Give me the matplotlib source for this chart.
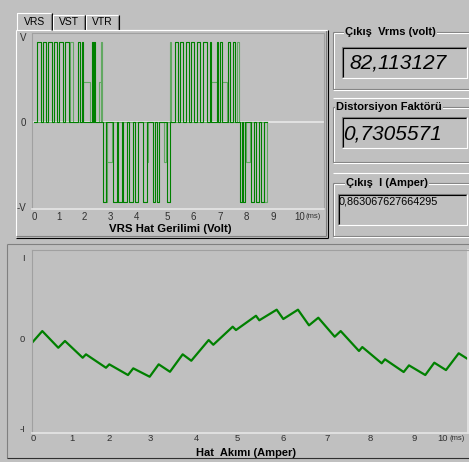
import matplotlib.pyplot as plt

plt.rcParams['font.family'] = ['Liberation Sans', 'DejaVu Sans']

BG = "#c0c0c0"
GRAY = "#808080"
WHITE = "#ffffff"
GREEN = "#008000"
LIGHT_GREEN = "#62a862"

# ust grafik: VRS hat gerilimi, darbeler (baslangic ms, bitis ms, seviye)
vrs_pulses = [
    (0.12, 0.26, 1), (0.35, 0.44, 1), (0.54, 0.67, 1), (0.75, 0.88, 1), (0.95, 1.08, 1),
    (1.18, 1.30, 1), (1.66, 1.73, 1), (1.79, 1.85, 1), (2.17, 2.21, 1), (2.27, 2.31, 1),
    (2.58, 2.71, -1), (2.96, 3.11, -1), (3.17, 3.30, -1), (3.36, 3.51, -1), (3.58, 3.73, -1),
    (3.80, 3.92, -1), (4.09, 4.24, -1), (4.48, 4.55, -1), (4.64, 4.71, -1), (4.99, 5.13, -1),
    (5.30, 5.42, 1), (5.49, 5.61, 1), (5.70, 5.83, 1), (5.90, 6.03, 1), (6.12, 6.24, 1),
    (6.36, 6.49, 1), (6.62, 6.65, 1), (6.87, 6.93, 1), (6.99, 7.06, 1), (7.30, 7.37, 1),
    (7.49, 7.56, 1),
    (7.74, 7.81, -1), (7.87, 7.93, -1), (8.16, 8.28, -1), (8.33, 8.46, -1), (8.53, 8.66, -1),
]
vrs_light_pulses = [
    (1.35, 1.45, 1), (1.85, 2.11, 0.5), (2.45, 2.50, 0.5), (2.50, 2.56, 1),
    (2.71, 2.75, -1), (2.75, 2.92, -0.5), (4.24, 4.30, -0.5), (4.88, 4.95, -0.5),
    (5.11, 5.16, 1), (6.65, 6.87, 0.5), (7.06, 7.25, 0.5), (7.62, 7.70, 1),
    (7.95, 8.12, -0.5), (8.66, 8.75, -1),
]
vrs_end = 8.76
vrs_xticks = [0, 0.94, 1.88, 2.86, 3.87, 5.0, 5.98, 6.99, 7.97, 8.98, 10.0]
vrs_yticks = [1.06, 0, -1.066]
vrs_ylabels = ["V", "0", "-V"]

# alt grafik: hat akimi
akim_t = [0.0, 0.227, 0.617, 0.780, 1.212, 1.293, 1.780, 1.861, 2.317, 2.446, 2.846,
          3.066, 3.341, 3.651, 3.861, 4.285, 4.398, 4.871, 4.951, 5.439, 5.520, 5.944,
          6.105, 6.463, 6.732, 6.959, 7.359, 7.505, 7.951, 8.032, 8.505, 8.585, 9.041,
          9.171, 9.568, 9.788, 10.073, 10.383, 10.578]
akim_i = [0.01, 0.134, -0.061, 0.018, -0.178, -0.138, -0.295, -0.255, -0.380, -0.302, -0.400,
          -0.255, -0.342, -0.138, -0.213, 0.029, -0.026, 0.185, 0.146, 0.313, 0.260, 0.384,
          0.275, 0.384, 0.201, 0.290, 0.068, 0.134, -0.099, -0.053, -0.243, -0.196, -0.345,
          -0.267, -0.380, -0.236, -0.322, -0.126, -0.185]
akim_xticks = [0, 0.95, 1.85, 2.85, 3.98, 4.98, 6.10, 7.17, 8.22, 9.29, 10.0]
akim_yticks = [1.0, 0.05, -1.0]
akim_ylabels = ["I", "0", "-I"]

xlabels = [str(i) for i in range(11)]
tabs = ["VRS", "VST", "VTR"]
vrms = "82,113127"
distorsiyon = "0,7305571"
cikis_akim = "0,863067627664295"


def trace(pulses, t_end):
    t, v = [0], [0]
    for s, e, lvl in pulses:
        t += [s, s, e, e]
        v += [0, lvl, lvl, 0]
    t.append(t_end)
    v.append(0)
    return t, v


fig = plt.figure(figsize=(4.69, 4.62), dpi=100, facecolor=BG)

# arayuz cizimi icin piksel koordinatli eksen
ui = fig.add_axes([0, 0, 1, 1], zorder=0)
ui.set_xlim(0, 469)
ui.set_ylim(462, 0)
ui.axis("off")


def line(x, y, c, lw=0.8):
    ui.plot(x, y, color=c, lw=lw, solid_capstyle="butt")


# sekme paneli
line([16, 16], [30, 237], WHITE)
line([16, 327], [30, 30], WHITE)
line([326, 326], [30, 236], GRAY)
line([16, 326], [236, 236], GRAY)
line([327.5, 327.5], [30, 238], "black")
line([16, 328], [237.5, 237.5], "black")

tab_x = [(17, 52, 13), (53, 85, 15), (86, 119, 15)]
for name, (x0, x1, top) in zip(tabs, tab_x):
    line([x0, x0, x1 - 1], [30, top, top], WHITE)
    line([x1, x1], [top, 30], "black")
    line([x1 - 1, x1 - 1], [top + 1, 30], GRAY)
    ui.text((x0 + x1) / 2, 22, name, fontsize=7.5, ha="center", va="center")
line([53, 327], [30, 30], WHITE)

# sag taraftaki gruplar
groups = [(32, 90, "Çıkış  Vrms (volt)", 345), (107, 163, "Distorsiyon Faktörü", 336),
          (183, 237, "Çıkış  I (Amper)", 346)]
for top, bottom, label, lx in groups:
    line([333, 333], [top, bottom], GRAY)
    line([334, 334], [top + 1, bottom - 1], WHITE)
    line([333, 469], [top, top], GRAY)
    line([334, 469], [top + 1, top + 1], WHITE)
    line([333, 469], [bottom - 1, bottom - 1], GRAY)
    line([333, 469], [bottom, bottom], WHITE)
    ui.text(lx, top, label, fontsize=8, fontweight="bold", ha="left", va="center",
            bbox=dict(facecolor=BG, edgecolor="none", pad=0.6))
line([333, 469], [98, 98], WHITE)
line([333, 469], [173, 173], WHITE)

boxes = [(342, 467, 47, 78), (342, 467, 117, 148), (338, 467, 194, 225)]
for x0, x1, y0, y1 in boxes:
    line([x0, x0, x1], [y1, y0, y0], GRAY)
    line([x0 + 1, x0 + 1, x1 - 1], [y1 - 1, y0 + 1, y0 + 1], "black")
    line([x0, x1, x1], [y1, y1, y0], WHITE)

ui.text(349, 63, vrms, fontsize=15, style="italic", ha="left", va="center")
ui.text(343, 134, distorsiyon, fontsize=15, style="italic", ha="left", va="center")
ui.text(339, 202, cikis_akim, fontsize=7.8, ha="left", va="center")

# alt panel
line([7, 7], [244, 458], GRAY)
line([7, 469], [244, 244], GRAY)
line([7, 469], [458, 458], "#303030")

# ust grafik
ax1 = fig.add_axes([32 / 469, 1 - 209 / 462, 292 / 469, 176 / 462], zorder=1)
ax1.set_facecolor(BG)
ax1.set_xlim(-0.075, 10.90)
ax1.set_ylim(-1.091, 1.109)
ax1.axhline(0, color="#e2e2e2", lw=1.4)
t, v = trace(vrs_light_pulses, vrs_end)
ax1.plot(t, v, color=LIGHT_GREEN, lw=0.8)
t, v = trace(vrs_pulses, vrs_end)
ax1.plot(t, v, color=GREEN, lw=0.8)
ax1.set_xticks(vrs_xticks, xlabels)
ax1.set_yticks(vrs_yticks, vrs_ylabels)
ax1.tick_params(length=0, labelsize=7, labelcolor="#303030")
ax1.tick_params(axis="x", pad=2)
ax1.tick_params(axis="y", pad=4)
for s in ["top", "left", "right"]:
    ax1.spines[s].set_color("#a0a0a0")
ax1.spines["bottom"].set_color("#e6e6e6")
ax1.spines["bottom"].set_linewidth(1.2)
ui.text(313, 217, "(ms)", fontsize=5.5, color="#303030", ha="center", va="center")
ui.text(170, 228.5, "VRS Hat Gerilimi (Volt)", fontsize=8.2, fontweight="bold", ha="center", va="center")

# alt grafik
ax2 = fig.add_axes([32 / 469, 1 - 433 / 462, 436 / 469, 183 / 462], zorder=1)
ax2.set_facecolor(BG)
ax2.set_xlim(-0.024, 10.61)
ax2.set_ylim(-1.058, 1.082)
ax2.plot(akim_t, akim_i, color=GREEN, lw=1.6)
ax2.set_xticks(akim_xticks, xlabels)
ax2.set_yticks(akim_yticks, akim_ylabels)
ax2.tick_params(length=0, labelsize=6.8, labelcolor="#303030")
ax2.tick_params(axis="x", pad=1)
ax2.tick_params(axis="y", pad=5)
for s in ["top", "left"]:
    ax2.spines[s].set_color("#a0a0a0")
for s in ["bottom", "right"]:
    ax2.spines[s].set_color("#e6e6e6")
    ax2.spines[s].set_linewidth(1.2)
ui.text(457, 439, "(ms)", fontsize=5.5, color="#303030", ha="center", va="center")
ui.text(246, 453, "Hat  Akımı (Amper)", fontsize=8, fontweight="bold", ha="center", va="center")

fig.savefig("out.png", dpi=100, facecolor=BG)
